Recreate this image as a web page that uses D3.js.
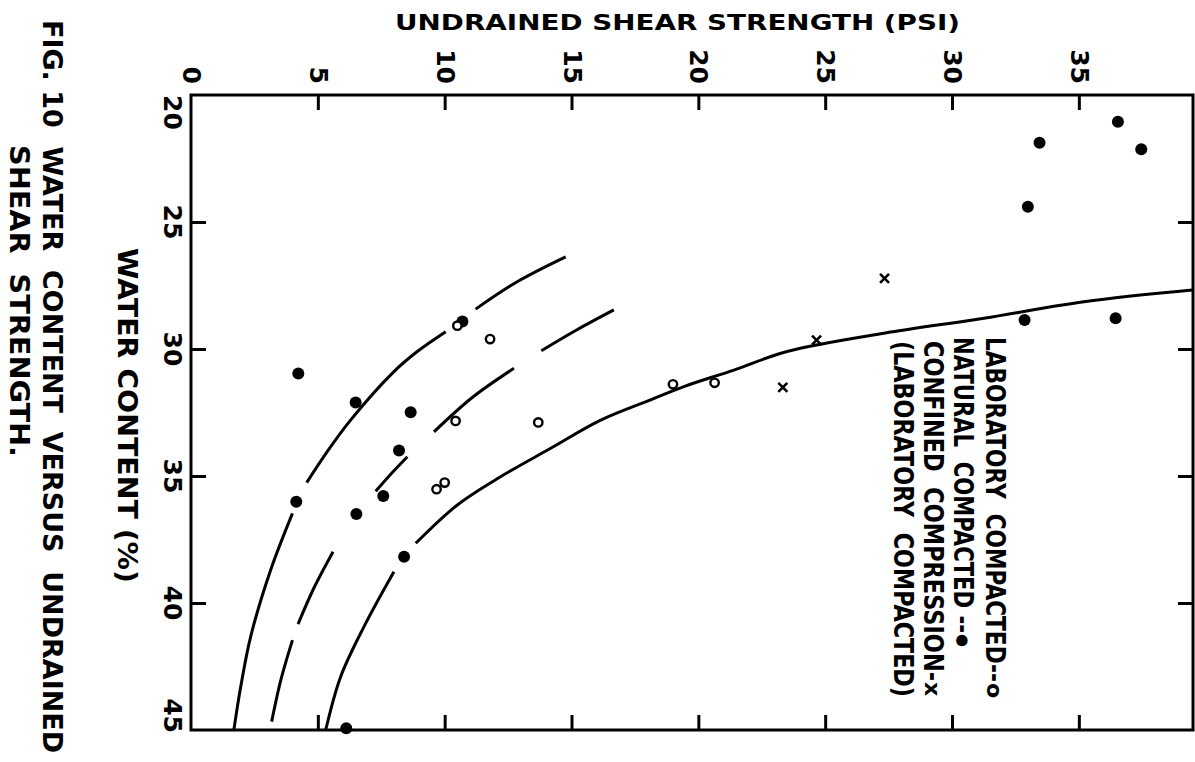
<!DOCTYPE html>
<html>
<head>
<meta charset="utf-8">
<script src="https://cdn.jsdelivr.net/npm/d3@7"></script>
<style>
  html, body { margin: 0; padding: 0; background: #fff; }
  svg text { font-family: "DejaVu Sans", "Liberation Sans", sans-serif; font-weight: bold; fill: #000; }
</style>
</head>
<body>
<div id="chart"></div>
<script>

// Values. Points are [shear strength (psi), water content (%)].
const shearTicks = [0, 5, 10, 15, 20, 25, 30, 35];
const waterTicks = [20, 25, 30, 35, 40, 45];

const labCompacted = [
	[10.5, 29.08], [11.79, 29.61], [13.69, 32.89], [10.43, 32.83],
	[19.0, 31.39], [20.64, 31.33], [9.68, 35.52], [10.0, 35.26]
];

const naturalCompacted = [
	[4.23, 30.96], [6.49, 32.11], [8.66, 32.49], [10.7, 28.92],
	[8.2, 34.0], [4.15, 36.01], [7.58, 35.79], [6.52, 36.5],
	[8.4, 38.18], [6.12, 44.93],
	[36.54, 21.05], [33.45, 21.88], [37.46, 22.14], [32.99, 24.4],
	[32.86, 28.86], [36.45, 28.79]
];

const confinedCompression = [
	[23.33, 31.51], [24.66, 29.65], [27.34, 27.22]
];

// Fitted curves, drawn as broken pieces as in the original.
const curveLeft = [
	[[1.69, 45], [1.96, 43.3], [2.35, 41.33], [3.14, 38.7], [4.0, 36.47]],
	[[4.56, 35.26], [5.37, 34.04], [6.29, 32.8], [8.0, 30.89], [8.92, 30.1], [10.04, 29.32]],
	[[11.22, 28.43], [12.86, 27.35], [14.77, 26.37]]
];

const curveMiddle = [
	[[3.18, 44.67], [3.55, 43.0], [4.0, 41.46]],
	[[4.22, 40.83], [4.85, 39.4], [5.6, 37.98]],
	[[7.28, 35.6], [7.9, 34.9], [8.53, 34.24]],
	[[9.58, 33.26], [11.1, 31.9], [12.73, 30.76]],
	[[13.81, 30.07], [15.2, 29.25], [16.67, 28.46]]
];

const curveRight = [
	[[5.31, 45], [5.9, 42.9], [6.82, 40.93], [8.0, 38.77]],
	[[8.86, 37.65], [10.5, 36.14], [12.2, 35.03], [14.18, 33.91], [16.15, 32.8], [18.12, 32.0],
	 [19.43, 31.48], [21.4, 30.83], [23.5, 30.1], [27.32, 29.38], [31.26, 28.79], [35.2, 28.14], [39.47, 27.68]]
];

// legend text and the marker glyph that closes each line
const legendLines = [
	"LABORATORY  COMPACTED--",
	"NATURAL  COMPACTED --",
	"CONFINED  COMPRESSION-",
	"(LABORATORY  COMPACTED)"
];
const legendMarks = ["o", "\u25CF", "x", ""];

const titleText = "UNDRAINED SHEAR STRENGTH (PSI)";
const waterLabel = "WATER CONTENT (%)";
const captionLines = ["FIG. 10  WATER  CONTENT  VERSUS  UNDRAINED", "SHEAR  STRENGTH."];


const W = 1195, H = 762;
const margin = {top: 95, right: 2, bottom: 32, left: 191};

const scales = {
	x: d3.scaleLinear().domain([0, 39.5]).range([margin.left, W - margin.right]),
	y: d3.scaleLinear().domain([20, 45]).range([margin.top, H - margin.bottom])
};

const line = d3.line()
	.x( d => scales.x( d[0] ) )
	.y( d => scales.y( d[1] ) )
	.curve( d3.curveCatmullRom.alpha(0.5) );

const svg = d3.select("#chart").append("svg")
	.attr("width", W)
	.attr("height", H);


function rotText(g, x, y, str, size, anchor, len){
	// Text turned a quarter clockwise, caps centred on x.
	const t = g.append("text")
		.attr("transform", `translate(${x},${y}) rotate(90)`)
		.attr("dy", "0.36em")
		.attr("text-anchor", anchor)
		.attr("font-size", size)
		.style("white-space", "pre")
		.text(str);
	if(len){
		t.attr("textLength", len).attr("lengthAdjust", "spacingAndGlyphs");
	} // if
	return t;
} // rotText


// FRAME AND TICKS (all ticks point inward)
const x0 = scales.x.range()[0], x1 = scales.x.range()[1];
const y0 = scales.y.range()[0], y1 = scales.y.range()[1];

const inner = shearTicks.filter(d => d > 0);
const innerW = waterTicks.filter(d => d > 20 && d < 45);

const axes = [
	{ax: d3.axisTop(scales.x).tickValues(inner), t: `translate(0,${y0})`},
	{ax: d3.axisBottom(scales.x).tickValues(inner), t: `translate(0,${y1})`},
	{ax: d3.axisLeft(scales.y).tickValues(innerW), t: `translate(${x0},0)`},
	{ax: d3.axisRight(scales.y).tickValues(innerW), t: `translate(${x1},0)`}
];
axes.forEach(a => {
	const g = svg.append("g")
		.attr("transform", a.t)
		.call( a.ax.tickSizeInner(-15).tickSizeOuter(0).tickFormat("") );
	g.select(".domain").remove();
	g.selectAll("line").attr("stroke", "#000").attr("stroke-width", 3);
});

svg.append("rect")
	.attr("x", x0).attr("y", y0)
	.attr("width", x1 - x0).attr("height", y1 - y0)
	.attr("fill", "none")
	.attr("stroke", "#000")
	.attr("stroke-width", 3);


// TICK LABELS
const gLab = svg.append("g");
shearTicks.forEach(d => {
	rotText(gLab, scales.x(d) + 1, 84, d, 25, "end");
});
waterTicks.forEach((d, i) => {
	let anchor = "middle";
	if(i == 0) anchor = "start";
	if(i == waterTicks.length - 1) anchor = "end";
	rotText(gLab, 173, scales.y(d) + (i == waterTicks.length - 1 ? 3 : 0), d, 25, anchor);
});


// CURVES
const gCurves = svg.append("g");
[curveLeft, curveMiddle, curveRight].forEach(curve => {
	gCurves.selectAll(null)
		.data(curve)
		.enter()
		.append("path")
			.attr("d", line)
			.attr("fill", "none")
			.attr("stroke", "#000")
			.attr("stroke-width", 3);
});


// POINTS
const gPts = svg.append("g");

gPts.selectAll("circle.natural")
	.data(naturalCompacted)
	.enter()
	.append("circle")
		.attr("class", "natural")
		.attr("cx", d => scales.x(d[0]))
		.attr("cy", d => scales.y(d[1]))
		.attr("r", 6)
		.attr("fill", "#000");

gPts.selectAll("circle.lab")
	.data(labCompacted)
	.enter()
	.append("circle")
		.attr("class", "lab")
		.attr("cx", d => scales.x(d[0]))
		.attr("cy", d => scales.y(d[1]))
		.attr("r", 4.2)
		.attr("fill", "#fff")
		.attr("stroke", "#000")
		.attr("stroke-width", 2.4);

gPts.selectAll("path.confined")
	.data(confinedCompression)
	.enter()
	.append("path")
		.attr("class", "confined")
		.attr("transform", d => `translate(${scales.x(d[0])},${scales.y(d[1])})`)
		.attr("d", "M-4.5,-4.5L4.5,4.5M-4.5,4.5L4.5,-4.5")
		.attr("stroke", "#000")
		.attr("stroke-width", 2.6);


// LEGEND (rotated column of text inside the plot)
const legendX = [995, 963, 933, 903];
const legendY = [337, 337, 341, 341];
const legendLen = [345, 296, 340, 356];
const gLeg = svg.append("g");
legendLines.forEach((d, i) => {
	rotText(gLeg, legendX[i], legendY[i], d, 26, "start", legendLen[i]);
	if(legendMarks[i]){
		// marker at the end of the line, kept at its own size
		const mk = legendMarks[i];
		rotText(gLeg, legendX[i], legendY[i] + legendLen[i] + 1, mk,
			mk == "\u25CF" ? 15 : 22, "start");
	} // if
});


// TITLES AND CAPTION
svg.append("text")
	.attr("x", 395)
	.attr("y", 30)
	.attr("font-size", 21)
	.attr("textLength", 565)
	.attr("lengthAdjust", "spacingAndGlyphs")
	.text(titleText);

rotText(svg, 128, 248, waterLabel, 27, "start", 335);
rotText(svg, 53, 20, captionLines[0], 27, "start", 733);
rotText(svg, 20, 145, captionLines[1], 27, "start", 312);

</script>
</body>
</html>
